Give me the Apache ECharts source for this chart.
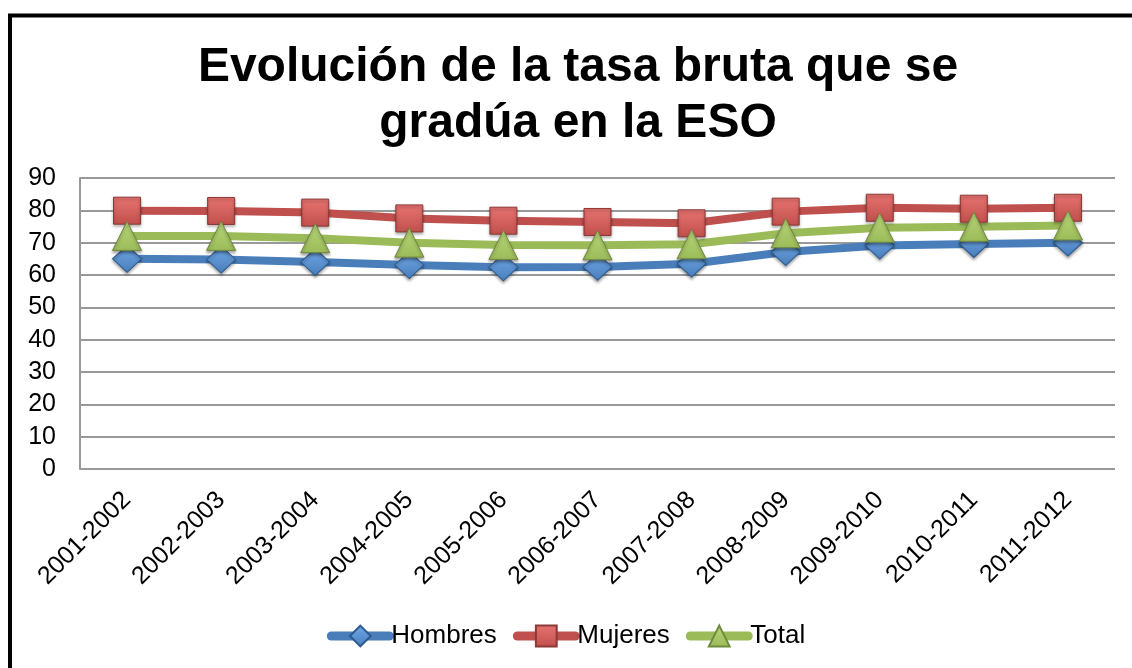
<!DOCTYPE html>
<html>
<head>
<meta charset="utf-8">
<script src="https://cdn.jsdelivr.net/npm/echarts@6/dist/echarts.min.js"></script>
<style>
  html, body { margin: 0; padding: 0; background: #fff; }
  #chart { width: 1132px; height: 668px; }
</style>
</head>
<body>
<div id="chart"></div>
<script>
// cursos escolares
var years = ['2001-2002', '2002-2003', '2003-2004', '2004-2005', '2005-2006', '2006-2007',
  '2007-2008', '2008-2009', '2009-2010', '2010-2011', '2011-2012'];
// tasa bruta (%)
var hombres = [65.0, 64.8, 64.0, 63.1, 62.4, 62.5, 63.5, 67.1, 69.1, 69.6, 70.0];
var mujeres = [79.9, 79.8, 79.3, 77.5, 76.8, 76.4, 76.0, 79.6, 80.8, 80.5, 80.8];
var total = [72.1, 72.1, 71.4, 70.0, 69.3, 69.2, 69.5, 72.9, 74.6, 74.9, 75.3];

var font = 'Liberation Sans, Arial, sans-serif';

function grad(light, base) {
  return new echarts.graphic.LinearGradient(0, 0, 0, 1, [
    { offset: 0, color: light },
    { offset: 1, color: base }
  ]);
}

function mkSeries(name, data, color, light, dark, symbol, size) {
  return {
    name: name,
    type: 'line',
    data: data,
    symbol: symbol,
    symbolSize: size,
    lineStyle: { color: color, width: 8 },
    itemStyle: {
      color: grad(light, color),
      borderColor: dark,
      borderWidth: 1,
      shadowColor: 'rgba(0,0,0,0.35)',
      shadowBlur: 3,
      shadowOffsetY: 2
    },
    emphasis: { disabled: true }
  };
}

var chart = echarts.init(document.getElementById('chart'));
chart.setOption({
  animation: false,
  backgroundColor: '#fff',
  textStyle: { fontFamily: font },
  title: {
    text: 'Evolución de la tasa bruta que se\ngradúa en la ESO',
    left: 573,
    top: 35,
    textAlign: 'center',
    textStyle: { fontSize: 48, fontWeight: 'bold', color: '#000', lineHeight: 56, fontFamily: font }
  },
  graphic: [{
    type: 'rect',
    shape: { x: 10, y: 15.5, width: 1300, height: 900 },
    style: { fill: 'none', stroke: '#000', lineWidth: 4 },
    silent: true
  }],
  legend: {
    bottom: 14,
    left: 'center',
    itemWidth: 58,
    itemHeight: 26,
    itemGap: 16,
    lineStyle: { width: 9, cap: 'round' },
    itemStyle: { shadowBlur: 0, shadowOffsetY: 0 },
    textStyle: { fontSize: 26, color: '#000', fontFamily: font, padding: [0, 0, 0, -3] },
    data: ['Hombres', 'Mujeres', 'Total']
  },
  grid: { left: 80, right: 17, top: 178, bottom: 199, containLabel: false },
  xAxis: {
    type: 'category',
    data: years,
    boundaryGap: true,
    axisLine: { show: false },
    axisTick: { show: false },
    axisLabel: { rotate: 45, fontSize: 25, color: '#000', margin: 27, fontFamily: font, interval: 0 }
  },
  yAxis: {
    type: 'value',
    min: 0,
    max: 90,
    interval: 10,
    axisLine: { show: true, lineStyle: { color: '#999', width: 2 } },
    axisTick: { show: false },
    axisLabel: { fontSize: 25, color: '#000', margin: 24, fontFamily: font },
    splitLine: { lineStyle: { color: '#999', width: 2 } }
  },
  series: [
    mkSeries('Hombres', hombres, '#4A7EBB', '#6FA8E8', '#2C5A8E', 'diamond', [29, 27]),
    mkSeries('Mujeres', mujeres, '#C0504D', '#E87370', '#8C3836', 'rect', 27),
    mkSeries('Total', total, '#9BBB59', '#B8D678', '#71893F', 'triangle', 29)
  ]
});
</script>
</body>
</html>
